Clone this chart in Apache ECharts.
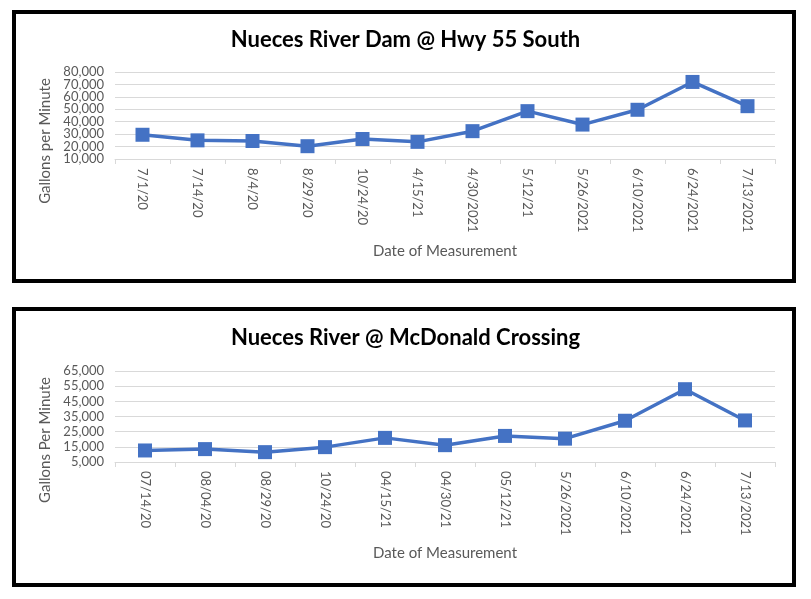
<!DOCTYPE html>
<html><head><meta charset="utf-8">
<script src="https://cdn.jsdelivr.net/npm/echarts@6/dist/echarts.min.js"></script>
<style>html,body{margin:0;padding:0;background:#fff}#c{width:811px;height:599px}</style>
</head><body><div id="c"></div>
<script>
const title1 = 'Nueces River Dam @ Hwy 55 South';
const dates1 = ['7/1/20','7/14/20','8/4/20','8/29/20','10/24/20','4/15/21','4/30/2021','5/12/21','5/26/2021','6/10/2021','6/24/2021','7/13/2021'];
const flow1 = [29500, 25000, 24500, 20300, 26100, 23800, 32400, 48500, 37700, 49600, 72000, 52500];
const title2 = 'Nueces River @ McDonald Crossing';
const dates2 = ['07/14/20','08/04/20','08/29/20','10/24/20','04/15/21','04/30/21','05/12/21','5/26/2021','6/10/2021','6/24/2021','7/13/2021'];
const flow2 = [12600, 13500, 11500, 14800, 20900, 16100, 22200, 20400, 32200, 53000, 32400];
const yName1 = 'Gallons per Minute';
const yName2 = 'Gallons Per Minute';
const xName = 'Date of Measurement';

const FONT = 'Lato';
const grey = '#595959';
const blue = '#4472C4';
const chart = echarts.init(document.getElementById('c'), null, {renderer:'canvas'});
const fmt = v => v.toLocaleString('en-US');
function xAx(data, gi){
  return {type:'category', gridIndex:gi, data:data, boundaryGap:true,
    axisLine:{lineStyle:{color:'#d9d9d9', width:1}},
    axisTick:{show:true, length:5, lineStyle:{color:'#d9d9d9'}},
    axisLabel:{rotate:-90, color:grey, fontFamily:FONT, fontSize:13, margin:9, interval:0, hideOverlap:false}};
}
function yAx(min,max,gi,formatter,split){
  return {type:'value', gridIndex:gi, min:min, max:max, interval:10000, position:'left', offset:0,
    axisLine:{show:false}, axisTick:{show:false},
    splitLine:{show:split, lineStyle:{color:'#d9d9d9'}},
    axisLabel:{color:grey, fontFamily:FONT, fontSize:13, margin:11, hideOverlap:false,
      showMinLabel:true, showMaxLabel:true, formatter:formatter}};
}
// top axis labels alternate between two overlaid axes so none get auto-hidden
const fmtA = v => (Math.round(v/10000) % 2 === 0) ? fmt(v) : '';
const fmtB = v => (Math.round(v/10000) % 2 === 1) ? fmt(v) : '';
function ser(data,xi,yi){
  return {type:'line', xAxisIndex:xi, yAxisIndex:yi, data:data, symbol:'rect', symbolSize:14,
    itemStyle:{color:blue}, lineStyle:{color:blue, width:3.5}, animation:false};
}
chart.setOption({
  animation:false,
  title:[
    {text:title1, left:'center', top:24, textStyle:{fontFamily:FONT, fontWeight:'bold', fontSize:22, color:'#000'}},
    {text:title2, left:'center', top:322, textStyle:{fontFamily:FONT, fontWeight:'bold', fontSize:22, color:'#000'}}
  ],
  grid:[
    {left:115, width:660, top:72, height:87},
    {left:115, width:660, top:371, height:91}
  ],
  xAxis:[xAx(dates1,0), xAx(dates2,1)],
  yAxis:[yAx(10000,80000,0,fmtA,true), yAx(10000,80000,0,fmtB,false), yAx(5000,65000,1,fmt,true)],
  series:[ser(flow1,0,0), ser(flow2,1,2)],
  graphic:[
    {type:'rect', shape:{x:14,y:12,width:780,height:269}, style:{fill:null, stroke:'#000', lineWidth:4}},
    {type:'rect', shape:{x:14,y:309,width:780,height:276}, style:{fill:null, stroke:'#000', lineWidth:4}},
    {type:'text', x:45, y:141, rotation:Math.PI/2, style:{text:yName1, fill:grey, font:'15px '+FONT, textAlign:'center', textVerticalAlign:'middle'}},
    {type:'text', x:45, y:440, rotation:Math.PI/2, style:{text:yName2, fill:grey, font:'15px '+FONT, textAlign:'center', textVerticalAlign:'middle'}},
    {type:'text', x:445, y:251, style:{text:xName, fill:grey, font:'15px '+FONT, textAlign:'center', textVerticalAlign:'middle'}},
    {type:'text', x:445, y:553, style:{text:xName, fill:grey, font:'15px '+FONT, textAlign:'center', textVerticalAlign:'middle'}}
  ]
});
</script></body></html>
